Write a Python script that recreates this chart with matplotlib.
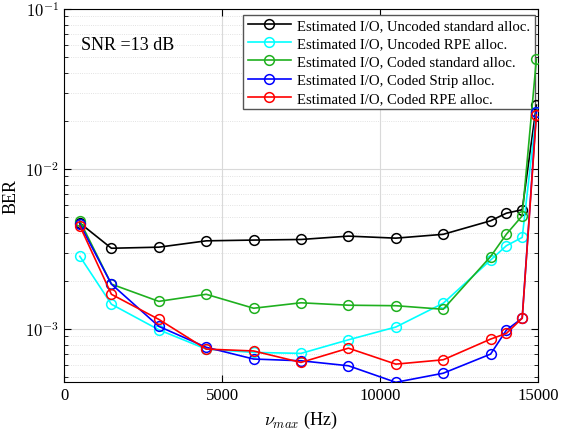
import matplotlib
matplotlib.use("Agg")
import matplotlib.pyplot as plt
from matplotlib.ticker import LogLocator, NullFormatter

plt.rcParams['font.family'] = ['Liberation Serif', 'DejaVu Serif']
plt.rcParams['mathtext.fontset'] = 'cm'

nu = [500, 1500, 3000, 4500, 6000, 7500, 9000, 10500, 12000, 13500, 14000, 14500, 14950]

ber_unc_std = [4.6e-3, 3.2e-3, 3.25e-3, 3.56e-3, 3.6e-3, 3.63e-3, 3.81e-3, 3.7e-3, 3.91e-3, 4.75e-3, 5.3e-3, 5.57e-3, 2.51e-2]
ber_unc_rpe = [2.85e-3, 1.43e-3, 9.9e-4, 7.5e-4, 7.15e-4, 7.05e-4, 8.57e-4, 1.03e-3, 1.45e-3, 2.7e-3, 3.32e-3, 3.74e-3, 2.26e-2]
ber_cod_std = [4.75e-3, 1.91e-3, 1.49e-3, 1.65e-3, 1.35e-3, 1.46e-3, 1.41e-3, 1.40e-3, 1.33e-3, 2.84e-3, 3.92e-3, 5.1e-3, 4.87e-2]
ber_cod_strip = [4.53e-3, 1.91e-3, 1.04e-3, 7.7e-4, 6.5e-4, 6.34e-4, 5.9e-4, 4.65e-4, 5.3e-4, 6.98e-4, 9.86e-4, 1.17e-3, 2.28e-2]
ber_cod_rpe = [4.42e-3, 1.65e-3, 1.15e-3, 7.5e-4, 7.3e-4, 6.19e-4, 7.6e-4, 6.04e-4, 6.43e-4, 8.66e-4, 9.4e-4, 1.17e-3, 2.18e-2]

labels = ["Estimated I/O, Uncoded standard alloc.",
          "Estimated I/O, Uncoded RPE alloc.",
          "Estimated I/O, Coded standard alloc.",
          "Estimated I/O, Coded Strip alloc.",
          "Estimated I/O, Coded RPE alloc."]
series = [ber_unc_std, ber_unc_rpe, ber_cod_std, ber_cod_strip, ber_cod_rpe]
colors = ['black', '#00ffff', '#1fb01f', '#0000ff', '#ff0000']

fig = plt.figure(figsize=(5.74, 4.35), dpi=100)
ax = fig.add_axes([0.1115, 0.1195, 0.8258, 0.8575])

for s, c, l in zip(series, colors, labels):
    ax.plot(nu, s, '-o', color=c, mfc='none', mec=c, ms=7, lw=1.2, mew=1.1, label=l, zorder=3)

ax.set_yscale('log')
ax.set_xlim(0, 15000)
ax.set_ylim(4.67e-4, 1e-1)
ax.set_xticks([0, 5000, 10000, 15000])
ax.set_yticks([1e-3, 1e-2, 1e-1])
ax.set_yticklabels([r'$10^{-3}$', r'$10^{-2}$', r'$10^{-1}$'])
ax.yaxis.set_minor_locator(LogLocator(base=10, subs=range(2, 10), numticks=20))
ax.yaxis.set_minor_formatter(NullFormatter())

ax.grid(True, which='major', color='#d9d9d9', lw=0.8, ls='-')
ax.grid(True, which='minor', axis='y', color='#d9d9d9', lw=0.6, ls=':')
ax.set_axisbelow(True)
ax.tick_params(which='both', direction='in', top=True, right=True, labelsize=12)
ax.tick_params(which='major', length=5)
ax.tick_params(which='minor', length=3)
for sp in ax.spines.values():
    sp.set_linewidth(0.8)

ax.set_xlabel(r'$\nu_{max}$ (Hz)', fontsize=13)
ax.set_ylabel('BER', fontsize=13)
ax.text(0.035, 0.905, 'SNR =13 dB', transform=ax.transAxes, fontsize=13, va='center')

leg = ax.legend(loc='upper right', bbox_to_anchor=(0.993, 0.985), fontsize=10.6,
                fancybox=False, framealpha=1, edgecolor='#555555', borderaxespad=0.0,
                handlelength=2.9, labelspacing=0.33, borderpad=0.3, handletextpad=0.45)
leg.get_frame().set_linewidth(1.0)
leg.set_zorder(2.5)

fig.savefig('out.png', dpi=100)
